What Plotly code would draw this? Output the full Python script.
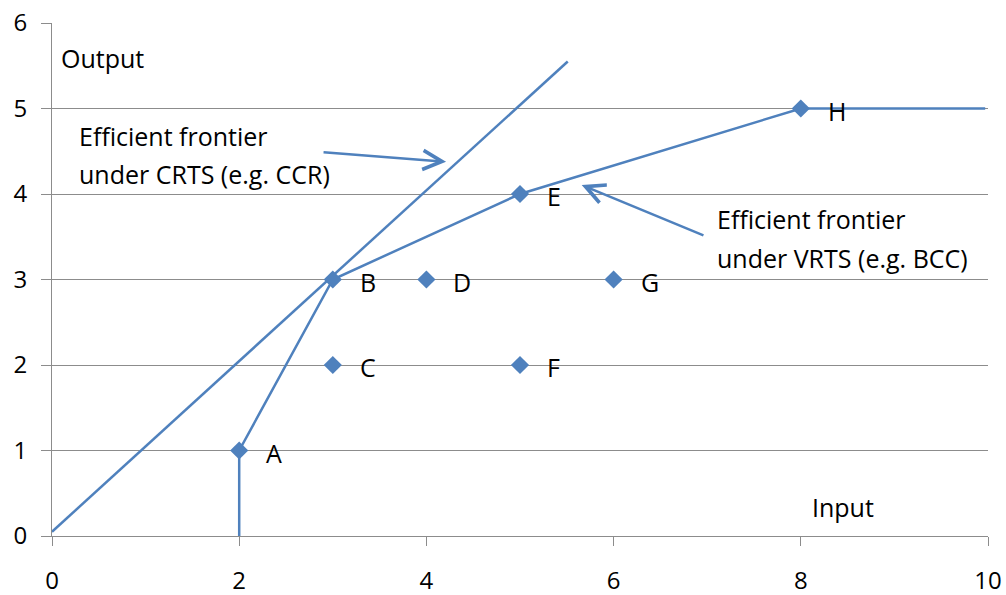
import plotly.graph_objects as go

# Decision-making units (input, output)
dmu_names = ["A", "B", "C", "D", "E", "F", "G", "H"]
dmu_input = [2, 3, 3, 4, 5, 5, 6, 8]
dmu_output = [1, 3, 2, 3, 4, 2, 3, 5]

# Variable returns to scale frontier (piecewise linear)
vrts_input = [2, 2, 3, 5, 8, 9.97]
vrts_output = [0, 1, 3, 4, 5, 5]

# Constant returns to scale frontier (ray through B)
crts_input = [0, 5.51]
crts_output = [0.05, 5.55]

x_ticks = [0, 2, 4, 6, 8, 10]
y_ticks = [0, 1, 2, 3, 4, 5, 6]

BLUE = "#4F81BD"
GREY = "#8C8C8C"
FONT = "'Open Sans', sans-serif"
FS = 25
TICK_FS = 24

fig = go.Figure()

fig.add_trace(go.Scatter(
    x=crts_input, y=crts_output, mode="lines",
    line=dict(color=BLUE, width=2.5), hoverinfo="skip", showlegend=False,
))
fig.add_trace(go.Scatter(
    x=vrts_input, y=vrts_output, mode="lines",
    line=dict(color=BLUE, width=2.5), hoverinfo="skip", showlegend=False,
))
fig.add_trace(go.Scatter(
    x=dmu_input, y=dmu_output, mode="markers",
    marker=dict(symbol="diamond", size=14, color=BLUE),
    showlegend=False,
))

annotations = []
# Point labels
for name, xi, yi in zip(dmu_names, dmu_input, dmu_output):
    annotations.append(dict(
        x=xi, y=yi, xref="x", yref="y", text=name, showarrow=False,
        xanchor="left", yanchor="middle", xshift=25, yshift=-2,
        font=dict(family=FONT, size=FS, color="black"),
    ))

# Text labels
def label(x, y, text):
    annotations.append(dict(
        x=x, y=y, xref="x", yref="y", text=text, showarrow=False,
        xanchor="left", yanchor="middle",
        font=dict(family=FONT, size=FS, color="black"),
    ))

label(0.07, 5.59, "Output")
label(8.10, 0.34, "Input")
label(0.27, 4.68, "Efficient frontier")
label(0.27, 4.23, "under CRTS (e.g. CCR)")
label(7.08, 3.71, "Efficient frontier")
label(7.08, 3.25, "under VRTS (e.g. BCC)")

# Arrows pointing to each frontier
for head, tail in [((4.21, 4.376), (2.885, 4.49)), ((5.659, 4.106), (6.976, 3.509))]:
    annotations.append(dict(
        x=head[0], y=head[1], ax=tail[0], ay=tail[1],
        xref="x", yref="y", axref="x", ayref="y",
        text="", showarrow=True, arrowhead=5, arrowsize=1.5,
        arrowwidth=2.5, arrowcolor=BLUE,
    ))

fig.update_layout(
    width=1006, height=595,
    margin=dict(l=52, r=18, t=23, b=59),
    paper_bgcolor="white", plot_bgcolor="white",
    font=dict(family=FONT, size=FS, color="black"),
    annotations=annotations,
    showlegend=False,
)
fig.update_xaxes(
    range=[0, 10], tickvals=x_ticks, ticks="outside", ticklen=9,
    tickcolor=GREY, tickwidth=1, showline=True, linecolor=GREY, linewidth=1,
    showgrid=False, zeroline=False, ticklabelstandoff=14, automargin=False,
    tickfont=dict(family=FONT, size=TICK_FS, color="black"),
)
fig.update_yaxes(
    range=[0, 6], tickvals=y_ticks, ticks="outside", ticklen=10,
    tickcolor=GREY, tickwidth=1, showline=True, linecolor=GREY, linewidth=1,
    showgrid=True, gridcolor=GREY, gridwidth=1, zeroline=False,
    ticklabelstandoff=9, automargin=False,
    tickfont=dict(family=FONT, size=TICK_FS, color="black"),
)

fig.write_html("out.html")
